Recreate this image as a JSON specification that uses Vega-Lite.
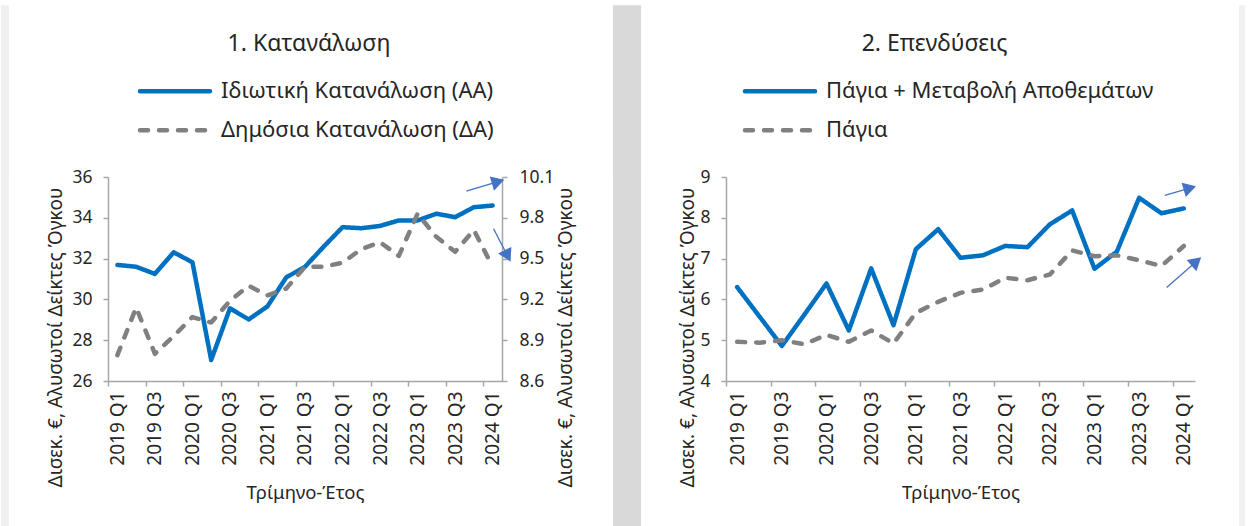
{
  "$schema": "https://vega.github.io/schema/vega-lite/v6.json",
  "padding": {"left": 0, "top": 4, "right": 0, "bottom": 0},
  "background": "white",
  "spacing": 36,
  "datasets": {
    "cons": [
      {"n":0,"q":"2019 Q1","s":"Ιδιωτική Κατανάλωση (ΑΑ)","v":31.69},
      {"n":1,"q":"2019 Q2","s":"Ιδιωτική Κατανάλωση (ΑΑ)","v":31.6},
      {"n":2,"q":"2019 Q3","s":"Ιδιωτική Κατανάλωση (ΑΑ)","v":31.25},
      {"n":3,"q":"2019 Q4","s":"Ιδιωτική Κατανάλωση (ΑΑ)","v":32.31},
      {"n":4,"q":"2020 Q1","s":"Ιδιωτική Κατανάλωση (ΑΑ)","v":31.82},
      {"n":5,"q":"2020 Q2","s":"Ιδιωτική Κατανάλωση (ΑΑ)","v":27.03},
      {"n":6,"q":"2020 Q3","s":"Ιδιωτική Κατανάλωση (ΑΑ)","v":29.56},
      {"n":7,"q":"2020 Q4","s":"Ιδιωτική Κατανάλωση (ΑΑ)","v":29.02},
      {"n":8,"q":"2021 Q1","s":"Ιδιωτική Κατανάλωση (ΑΑ)","v":29.66},
      {"n":9,"q":"2021 Q2","s":"Ιδιωτική Κατανάλωση (ΑΑ)","v":31.08},
      {"n":10,"q":"2021 Q3","s":"Ιδιωτική Κατανάλωση (ΑΑ)","v":31.6},
      {"n":11,"q":"2021 Q4","s":"Ιδιωτική Κατανάλωση (ΑΑ)","v":32.59},
      {"n":12,"q":"2022 Q1","s":"Ιδιωτική Κατανάλωση (ΑΑ)","v":33.54},
      {"n":13,"q":"2022 Q2","s":"Ιδιωτική Κατανάλωση (ΑΑ)","v":33.49},
      {"n":14,"q":"2022 Q3","s":"Ιδιωτική Κατανάλωση (ΑΑ)","v":33.6},
      {"n":15,"q":"2022 Q4","s":"Ιδιωτική Κατανάλωση (ΑΑ)","v":33.87},
      {"n":16,"q":"2023 Q1","s":"Ιδιωτική Κατανάλωση (ΑΑ)","v":33.87},
      {"n":17,"q":"2023 Q2","s":"Ιδιωτική Κατανάλωση (ΑΑ)","v":34.2},
      {"n":18,"q":"2023 Q3","s":"Ιδιωτική Κατανάλωση (ΑΑ)","v":34.03},
      {"n":19,"q":"2023 Q4","s":"Ιδιωτική Κατανάλωση (ΑΑ)","v":34.52},
      {"n":20,"q":"2024 Q1","s":"Ιδιωτική Κατανάλωση (ΑΑ)","v":34.6},
      {"n":0,"q":"2019 Q1","s":"Δημόσια Κατανάλωση (ΔΑ)","v":8.79},
      {"n":1,"q":"2019 Q2","s":"Δημόσια Κατανάλωση (ΔΑ)","v":9.14},
      {"n":2,"q":"2019 Q3","s":"Δημόσια Κατανάλωση (ΔΑ)","v":8.8},
      {"n":3,"q":"2019 Q4","s":"Δημόσια Κατανάλωση (ΔΑ)","v":8.93},
      {"n":4,"q":"2020 Q1","s":"Δημόσια Κατανάλωση (ΔΑ)","v":9.07},
      {"n":5,"q":"2020 Q2","s":"Δημόσια Κατανάλωση (ΔΑ)","v":9.03},
      {"n":6,"q":"2020 Q3","s":"Δημόσια Κατανάλωση (ΔΑ)","v":9.19},
      {"n":7,"q":"2020 Q4","s":"Δημόσια Κατανάλωση (ΔΑ)","v":9.3},
      {"n":8,"q":"2021 Q1","s":"Δημόσια Κατανάλωση (ΔΑ)","v":9.23},
      {"n":9,"q":"2021 Q2","s":"Δημόσια Κατανάλωση (ΔΑ)","v":9.28},
      {"n":10,"q":"2021 Q3","s":"Δημόσια Κατανάλωση (ΔΑ)","v":9.44},
      {"n":11,"q":"2021 Q4","s":"Δημόσια Κατανάλωση (ΔΑ)","v":9.44},
      {"n":12,"q":"2022 Q1","s":"Δημόσια Κατανάλωση (ΔΑ)","v":9.47},
      {"n":13,"q":"2022 Q2","s":"Δημόσια Κατανάλωση (ΔΑ)","v":9.57},
      {"n":14,"q":"2022 Q3","s":"Δημόσια Κατανάλωση (ΔΑ)","v":9.62},
      {"n":15,"q":"2022 Q4","s":"Δημόσια Κατανάλωση (ΔΑ)","v":9.52},
      {"n":16,"q":"2023 Q1","s":"Δημόσια Κατανάλωση (ΔΑ)","v":9.83},
      {"n":17,"q":"2023 Q2","s":"Δημόσια Κατανάλωση (ΔΑ)","v":9.66},
      {"n":18,"q":"2023 Q3","s":"Δημόσια Κατανάλωση (ΔΑ)","v":9.55},
      {"n":19,"q":"2023 Q4","s":"Δημόσια Κατανάλωση (ΔΑ)","v":9.71},
      {"n":20,"q":"2024 Q1","s":"Δημόσια Κατανάλωση (ΔΑ)","v":9.44}
    ],
    "inv": [
      {"n":0,"q":"2019 Q1","s":"Πάγια + Μεταβολή Αποθεμάτων","v":6.3},
      {"n":1,"q":"2019 Q2","s":"Πάγια + Μεταβολή Αποθεμάτων","v":5.58},
      {"n":2,"q":"2019 Q3","s":"Πάγια + Μεταβολή Αποθεμάτων","v":4.86},
      {"n":3,"q":"2019 Q4","s":"Πάγια + Μεταβολή Αποθεμάτων","v":5.62},
      {"n":4,"q":"2020 Q1","s":"Πάγια + Μεταβολή Αποθεμάτων","v":6.39},
      {"n":5,"q":"2020 Q2","s":"Πάγια + Μεταβολή Αποθεμάτων","v":5.24},
      {"n":6,"q":"2020 Q3","s":"Πάγια + Μεταβολή Αποθεμάτων","v":6.76},
      {"n":7,"q":"2020 Q4","s":"Πάγια + Μεταβολή Αποθεμάτων","v":5.37},
      {"n":8,"q":"2021 Q1","s":"Πάγια + Μεταβολή Αποθεμάτων","v":7.23},
      {"n":9,"q":"2021 Q2","s":"Πάγια + Μεταβολή Αποθεμάτων","v":7.72},
      {"n":10,"q":"2021 Q3","s":"Πάγια + Μεταβολή Αποθεμάτων","v":7.02},
      {"n":11,"q":"2021 Q4","s":"Πάγια + Μεταβολή Αποθεμάτων","v":7.08},
      {"n":12,"q":"2022 Q1","s":"Πάγια + Μεταβολή Αποθεμάτων","v":7.31},
      {"n":13,"q":"2022 Q2","s":"Πάγια + Μεταβολή Αποθεμάτων","v":7.28},
      {"n":14,"q":"2022 Q3","s":"Πάγια + Μεταβολή Αποθεμάτων","v":7.84},
      {"n":15,"q":"2022 Q4","s":"Πάγια + Μεταβολή Αποθεμάτων","v":8.18},
      {"n":16,"q":"2023 Q1","s":"Πάγια + Μεταβολή Αποθεμάτων","v":6.75},
      {"n":17,"q":"2023 Q2","s":"Πάγια + Μεταβολή Αποθεμάτων","v":7.17},
      {"n":18,"q":"2023 Q3","s":"Πάγια + Μεταβολή Αποθεμάτων","v":8.49},
      {"n":19,"q":"2023 Q4","s":"Πάγια + Μεταβολή Αποθεμάτων","v":8.11},
      {"n":20,"q":"2024 Q1","s":"Πάγια + Μεταβολή Αποθεμάτων","v":8.23},
      {"n":0,"q":"2019 Q1","s":"Πάγια","v":4.96},
      {"n":1,"q":"2019 Q2","s":"Πάγια","v":4.94},
      {"n":2,"q":"2019 Q3","s":"Πάγια","v":5.0},
      {"n":3,"q":"2019 Q4","s":"Πάγια","v":4.9},
      {"n":4,"q":"2020 Q1","s":"Πάγια","v":5.13},
      {"n":5,"q":"2020 Q2","s":"Πάγια","v":4.96},
      {"n":6,"q":"2020 Q3","s":"Πάγια","v":5.24},
      {"n":7,"q":"2020 Q4","s":"Πάγια","v":4.92},
      {"n":8,"q":"2021 Q1","s":"Πάγια","v":5.67},
      {"n":9,"q":"2021 Q2","s":"Πάγια","v":5.94},
      {"n":10,"q":"2021 Q3","s":"Πάγια","v":6.16},
      {"n":11,"q":"2021 Q4","s":"Πάγια","v":6.24},
      {"n":12,"q":"2022 Q1","s":"Πάγια","v":6.53},
      {"n":13,"q":"2022 Q2","s":"Πάγια","v":6.47},
      {"n":14,"q":"2022 Q3","s":"Πάγια","v":6.61},
      {"n":15,"q":"2022 Q4","s":"Πάγια","v":7.2},
      {"n":16,"q":"2023 Q1","s":"Πάγια","v":7.06},
      {"n":17,"q":"2023 Q2","s":"Πάγια","v":7.08},
      {"n":18,"q":"2023 Q3","s":"Πάγια","v":6.96},
      {"n":19,"q":"2023 Q4","s":"Πάγια","v":6.82},
      {"n":20,"q":"2024 Q1","s":"Πάγια","v":7.31}
    ],
    "arrowsL": [
      {"a":1,"x1":18.6,"y1":35.31,"x2":20.29,"y2":35.77},
      {"a":2,"x1":20.05,"y1":33.46,"x2":20.8,"y2":32.13}
    ],
    "arrowsR": [
      {"a":1,"x1":19.15,"y1":8.55,"x2":20.27,"y2":8.73},
      {"a":2,"x1":19.23,"y1":6.29,"x2":20.56,"y2":6.93}
    ]
  },
  "hconcat": [
    {
      "width": 8, "height": 349,
      "data": {"values": [{"k": 4}]},
      "mark": {"type": "point", "opacity": 0},
      "encoding": {"x": {"field": "k", "type": "quantitative", "scale": {"domain": [0, 8], "nice": false, "zero": false},
                         "axis": {"orient": "top", "values": [1,3,5,7], "translate": 0, "domain": false, "labels": false, "title": null, "tickSize": 171.7, "tickWidth": 2.2, "tickColor": "#f0f0f0"}}},
      "view": {"fill": "#f0f0f0", "stroke": null}
    },
    {
      "width": 394, "height": 204,
      "title": {"text": "1. Κατανάλωση", "fontSize": 23, "fontWeight": "normal", "color": "#262626", "offset": 24, "dx": 4, "anchor": "middle", "frame": "group"},
      "layer": [
        {
          "layer": [
            {
              "data": {"name": "cons"},
              "transform": [{"filter": "datum.s === 'Ιδιωτική Κατανάλωση (ΑΑ)'"}],
              "mark": {"type": "line", "strokeWidth": 4.5, "strokeCap": "round", "strokeJoin": "round"},
              "encoding": {
                "x": {"field": "n", "type": "quantitative", "scale": {"domain": [-0.5, 20.5], "nice": false, "zero": false},
                      "axis": {"values": [-0.5,1.5,3.5,5.5,7.5,9.5,11.5,13.5,15.5,17.5,19.5], "labelExpr": "(2019 + floor((datum.value + 0.5) / 4)) + ' Q' + ((datum.value + 0.5) % 4 + 1)", "labelOffset": 9.38, "labelAngle": 270, "labelPadding": 5, "labelOverlap": false, "labelFlush": false, "labelBound": false, "title": "Τρίμηνο-Έτος", "titlePadding": 18}},
                "y": {"field": "v", "type": "quantitative", "scale": {"domain": [26, 36], "nice": false, "zero": false},
                      "axis": {"orient": "left", "values": [26,28,30,32,34,36], "title": "Δισεκ. €, Αλυσωτοί Δείκτες Όγκου", "titlePadding": 6, "labelPadding": 11, "titleY": 160}},
                "color": {"field": "s", "type": "nominal", "scale": {"domain": ["Ιδιωτική Κατανάλωση (ΑΑ)", "Δημόσια Κατανάλωση (ΔΑ)"], "range": ["#0070C0", "#808080"]},
                          "legend": {"orient": "none", "legendX": 56, "legendY": -96.7, "direction": "vertical", "title": null, "symbolType": "M-5,0H5", "symbolSize": 196, "symbolStrokeWidth": 4.5, "labelFontSize": 22, "labelColor": "#262626", "rowPadding": 17, "labelOffset": 35, "padding": 0, "labelLimit": 600, "encode": {"symbols": {"update": {"strokeCap": {"value": "round"}}}}}},
                "strokeDash": {"field": "s", "type": "nominal", "scale": {"domain": ["Ιδιωτική Κατανάλωση (ΑΑ)", "Δημόσια Κατανάλωση (ΔΑ)"], "range": [[1, 0], [8, 11]]},
                          "legend": {"orient": "none", "legendX": 56, "legendY": -96.7, "direction": "vertical", "title": null, "symbolType": "M-5,0H5", "symbolSize": 196, "symbolStrokeWidth": 4.5, "labelFontSize": 22, "labelColor": "#262626", "rowPadding": 17, "labelOffset": 35, "padding": 0, "labelLimit": 600, "encode": {"symbols": {"update": {"strokeCap": {"value": "round"}}}}}}
              }
            },
            {
              "data": {"name": "arrowsL"},
              "mark": {"type": "rule", "color": "#4472C4", "strokeWidth": 1.3},
              "encoding": {
                "x": {"field": "x1", "type": "quantitative", "scale": {"domain": [-0.5, 20.5], "nice": false, "zero": false},
                      "axis": {"values": [-0.5,1.5,3.5,5.5,7.5,9.5,11.5,13.5,15.5,17.5,19.5], "labelExpr": "(2019 + floor((datum.value + 0.5) / 4)) + ' Q' + ((datum.value + 0.5) % 4 + 1)", "labelOffset": 9.38, "labelAngle": 270, "labelPadding": 5, "labelOverlap": false, "labelFlush": false, "labelBound": false, "title": "Τρίμηνο-Έτος", "titlePadding": 18}},
                "x2": {"field": "x2"},
                "y": {"field": "y1", "type": "quantitative", "scale": {"domain": [26, 36], "nice": false, "zero": false},
                      "axis": {"orient": "left", "values": [26,28,30,32,34,36], "title": "Δισεκ. €, Αλυσωτοί Δείκτες Όγκου", "titlePadding": 6, "labelPadding": 11, "titleY": 160}},
                "y2": {"field": "y2"}
              }
            },
            {
              "data": {"name": "arrowsL"},
              "transform": [{"filter": "datum.a === 1"}],
              "mark": {"type": "point", "shape": "triangle-right", "filled": true, "color": "#4472C4", "opacity": 1, "size": 220, "angle": 343.5},
              "encoding": {
                "x": {"field": "x2", "type": "quantitative", "scale": {"domain": [-0.5, 20.5], "nice": false, "zero": false},
                      "axis": {"values": [-0.5,1.5,3.5,5.5,7.5,9.5,11.5,13.5,15.5,17.5,19.5], "labelExpr": "(2019 + floor((datum.value + 0.5) / 4)) + ' Q' + ((datum.value + 0.5) % 4 + 1)", "labelOffset": 9.38, "labelAngle": 270, "labelPadding": 5, "labelOverlap": false, "labelFlush": false, "labelBound": false, "title": "Τρίμηνο-Έτος", "titlePadding": 18}},
                "y": {"field": "y2", "type": "quantitative", "scale": {"domain": [26, 36], "nice": false, "zero": false},
                      "axis": {"orient": "left", "values": [26,28,30,32,34,36], "title": "Δισεκ. €, Αλυσωτοί Δείκτες Όγκου", "titlePadding": 6, "labelPadding": 11, "titleY": 160}}
              }
            },
            {
              "data": {"name": "arrowsL"},
              "transform": [{"filter": "datum.a === 2"}],
              "mark": {"type": "point", "shape": "triangle-right", "filled": true, "color": "#4472C4", "opacity": 1, "size": 220, "angle": 63.4},
              "encoding": {
                "x": {"field": "x2", "type": "quantitative", "scale": {"domain": [-0.5, 20.5], "nice": false, "zero": false},
                      "axis": {"values": [-0.5,1.5,3.5,5.5,7.5,9.5,11.5,13.5,15.5,17.5,19.5], "labelExpr": "(2019 + floor((datum.value + 0.5) / 4)) + ' Q' + ((datum.value + 0.5) % 4 + 1)", "labelOffset": 9.38, "labelAngle": 270, "labelPadding": 5, "labelOverlap": false, "labelFlush": false, "labelBound": false, "title": "Τρίμηνο-Έτος", "titlePadding": 18}},
                "y": {"field": "y2", "type": "quantitative", "scale": {"domain": [26, 36], "nice": false, "zero": false},
                      "axis": {"orient": "left", "values": [26,28,30,32,34,36], "title": "Δισεκ. €, Αλυσωτοί Δείκτες Όγκου", "titlePadding": 6, "labelPadding": 11, "titleY": 160}}
              }
            }
          ]
        },
        {
          "data": {"name": "cons"},
          "transform": [{"filter": "datum.s === 'Δημόσια Κατανάλωση (ΔΑ)'"}],
          "mark": {"type": "line", "strokeWidth": 4.5, "strokeCap": "round", "strokeJoin": "round"},
          "encoding": {
            "x": {"field": "n", "type": "quantitative", "scale": {"domain": [-0.5, 20.5], "nice": false, "zero": false},
                  "axis": {"values": [-0.5,1.5,3.5,5.5,7.5,9.5,11.5,13.5,15.5,17.5,19.5], "labelExpr": "(2019 + floor((datum.value + 0.5) / 4)) + ' Q' + ((datum.value + 0.5) % 4 + 1)", "labelOffset": 9.38, "labelAngle": 270, "labelPadding": 5, "labelOverlap": false, "labelFlush": false, "labelBound": false, "title": "Τρίμηνο-Έτος", "titlePadding": 18}},
            "y": {"field": "v", "type": "quantitative", "scale": {"domain": [8.6, 10.1], "nice": false, "zero": false},
                  "axis": {"orient": "right", "values": [8.6,8.9,9.2,9.5,9.8,10.1], "format": ".1f", "title": "Δισεκ. €, Αλυσωτοί Δείκτες Όγκου", "titleAngle": 270, "titlePadding": 22, "labelPadding": 12, "titleY": 160}},
            "color": {"field": "s", "type": "nominal", "scale": {"domain": ["Ιδιωτική Κατανάλωση (ΑΑ)", "Δημόσια Κατανάλωση (ΔΑ)"], "range": ["#0070C0", "#808080"]}},
            "strokeDash": {"field": "s", "type": "nominal", "scale": {"domain": ["Ιδιωτική Κατανάλωση (ΑΑ)", "Δημόσια Κατανάλωση (ΔΑ)"], "range": [[1, 0], [8, 11]]}}
          }
        }
      ],
      "resolve": {"scale": {"y": "independent"}}
    },
    {
      "width": 28, "height": 349,
      "data": {"values": [{"k": 14}]},
      "mark": {"type": "point", "opacity": 0},
      "encoding": {"x": {"field": "k", "type": "quantitative", "scale": {"domain": [0, 28], "nice": false, "zero": false},
                         "axis": {"orient": "top", "values": [1,3,5,7,9,11,13,15,17,19,21,23,25,27], "translate": 0, "domain": false, "labels": false, "title": null, "tickSize": 171.7, "tickWidth": 2.2, "tickColor": "#d9d9d9"}}},
      "view": {"fill": "#d9d9d9", "stroke": null}
    },
    {
      "width": 469, "height": 204,
      "title": {"text": "2. Επενδύσεις", "fontSize": 23, "fontWeight": "normal", "color": "#262626", "offset": 24, "dx": -26, "anchor": "middle", "frame": "group"},
      "layer": [
        {
          "data": {"name": "inv"},
          "transform": [{"filter": "datum.s === 'Πάγια + Μεταβολή Αποθεμάτων'"}],
          "mark": {"type": "line", "strokeWidth": 4.5, "strokeCap": "round", "strokeJoin": "round"},
          "encoding": {
            "x": {"field": "n", "type": "quantitative", "scale": {"domain": [-0.5, 20.5], "nice": false, "zero": false},
                  "axis": {"values": [-0.5,1.5,3.5,5.5,7.5,9.5,11.5,13.5,15.5,17.5,19.5], "labelExpr": "(2019 + floor((datum.value + 0.5) / 4)) + ' Q' + ((datum.value + 0.5) % 4 + 1)", "labelOffset": 11.17, "labelAngle": 270, "labelPadding": 5, "labelOverlap": false, "labelFlush": false, "labelBound": false, "title": "Τρίμηνο-Έτος", "titlePadding": 18}},
            "y": {"field": "v", "type": "quantitative", "scale": {"domain": [4, 9], "nice": false, "zero": false},
                  "axis": {"values": [4,5,6,7,8,9], "title": "Δισεκ. €, Αλυσωτοί Δείκτες Όγκου", "titlePadding": 2, "labelPadding": 11, "titleY": 160}},
            "color": {"field": "s", "type": "nominal", "scale": {"domain": ["Πάγια + Μεταβολή Αποθεμάτων", "Πάγια"], "range": ["#0070C0", "#808080"]},
                      "legend": {"orient": "none", "legendX": 43, "legendY": -96.7, "direction": "vertical", "title": null, "symbolType": "M-5,0H5", "symbolSize": 196, "symbolStrokeWidth": 4.5, "labelFontSize": 22, "labelColor": "#262626", "rowPadding": 17, "labelOffset": 35, "padding": 0, "labelLimit": 600, "encode": {"symbols": {"update": {"strokeCap": {"value": "round"}}}}}},
            "strokeDash": {"field": "s", "type": "nominal", "scale": {"domain": ["Πάγια + Μεταβολή Αποθεμάτων", "Πάγια"], "range": [[1, 0], [8, 11]]},
                      "legend": {"orient": "none", "legendX": 43, "legendY": -96.7, "direction": "vertical", "title": null, "symbolType": "M-5,0H5", "symbolSize": 196, "symbolStrokeWidth": 4.5, "labelFontSize": 22, "labelColor": "#262626", "rowPadding": 17, "labelOffset": 35, "padding": 0, "labelLimit": 600, "encode": {"symbols": {"update": {"strokeCap": {"value": "round"}}}}}}
          }
        },
        {
          "data": {"name": "inv"},
          "transform": [{"filter": "datum.s === 'Πάγια'"}],
          "mark": {"type": "line", "strokeWidth": 4.5, "strokeCap": "round", "strokeJoin": "round"},
          "encoding": {
            "x": {"field": "n", "type": "quantitative", "scale": {"domain": [-0.5, 20.5], "nice": false, "zero": false}},
            "y": {"field": "v", "type": "quantitative", "scale": {"domain": [4, 9], "nice": false, "zero": false}},
            "color": {"field": "s", "type": "nominal", "scale": {"domain": ["Πάγια + Μεταβολή Αποθεμάτων", "Πάγια"], "range": ["#0070C0", "#808080"]}},
            "strokeDash": {"field": "s", "type": "nominal", "scale": {"domain": ["Πάγια + Μεταβολή Αποθεμάτων", "Πάγια"], "range": [[1, 0], [8, 11]]}}
          }
        },
        {
          "data": {"name": "arrowsR"},
          "mark": {"type": "rule", "color": "#4472C4", "strokeWidth": 1.3},
          "encoding": {
            "x": {"field": "x1", "type": "quantitative", "scale": {"domain": [-0.5, 20.5], "nice": false, "zero": false}},
            "x2": {"field": "x2"},
            "y": {"field": "y1", "type": "quantitative", "scale": {"domain": [4, 9], "nice": false, "zero": false}},
            "y2": {"field": "y2"}
          }
        },
        {
          "data": {"name": "arrowsR"},
          "transform": [{"filter": "datum.a === 1"}],
          "mark": {"type": "point", "shape": "triangle-right", "filled": true, "color": "#4472C4", "opacity": 1, "size": 220, "angle": 343.6},
          "encoding": {
            "x": {"field": "x2", "type": "quantitative", "scale": {"domain": [-0.5, 20.5], "nice": false, "zero": false}},
            "y": {"field": "y2", "type": "quantitative", "scale": {"domain": [4, 9], "nice": false, "zero": false}}
          }
        },
        {
          "data": {"name": "arrowsR"},
          "transform": [{"filter": "datum.a === 2"}],
          "mark": {"type": "point", "shape": "triangle-right", "filled": true, "color": "#4472C4", "opacity": 1, "size": 220, "angle": 318.7},
          "encoding": {
            "x": {"field": "x2", "type": "quantitative", "scale": {"domain": [-0.5, 20.5], "nice": false, "zero": false}},
            "y": {"field": "y2", "type": "quantitative", "scale": {"domain": [4, 9], "nice": false, "zero": false}}
          }
        }
      ]
    },
    {
      "width": 6, "height": 349,
      "data": {"values": [{"k": 3}]},
      "mark": {"type": "point", "opacity": 0},
      "encoding": {"x": {"field": "k", "type": "quantitative", "scale": {"domain": [0, 6], "nice": false, "zero": false},
                         "axis": {"orient": "top", "values": [1,3,5], "translate": 0, "domain": false, "labels": false, "title": null, "tickSize": 171.7, "tickWidth": 2.2, "tickColor": "#f0f0f0"}}},
      "view": {"fill": "#f0f0f0", "stroke": null}
    }
  ],
  "resolve": {"scale": {"color": "independent", "strokeDash": "independent", "x": "independent", "y": "independent"}},
  "config": {
    "font": "Noto Sans",
    "view": {"stroke": null},
    "axis": {
      "domainColor": "#a6a6a6", "tickColor": "#a6a6a6", "domainWidth": 1.5, "tickWidth": 1.5, "tickSize": 5,
      "grid": false, "labelColor": "#262626", "titleColor": "#262626", "labelFontSize": 17.5, "titleFontSize": 19,
      "titleFontWeight": "normal", "labelFont": "Noto Sans", "titleFont": "Noto Sans"
    },
    "axisX": {"labelOverlap": false, "labelFontSize": 19, "titleFontSize": 18.5},
    "legend": {"labelFont": "Noto Sans"},
    "title": {"font": "Noto Sans"}
  }
}
